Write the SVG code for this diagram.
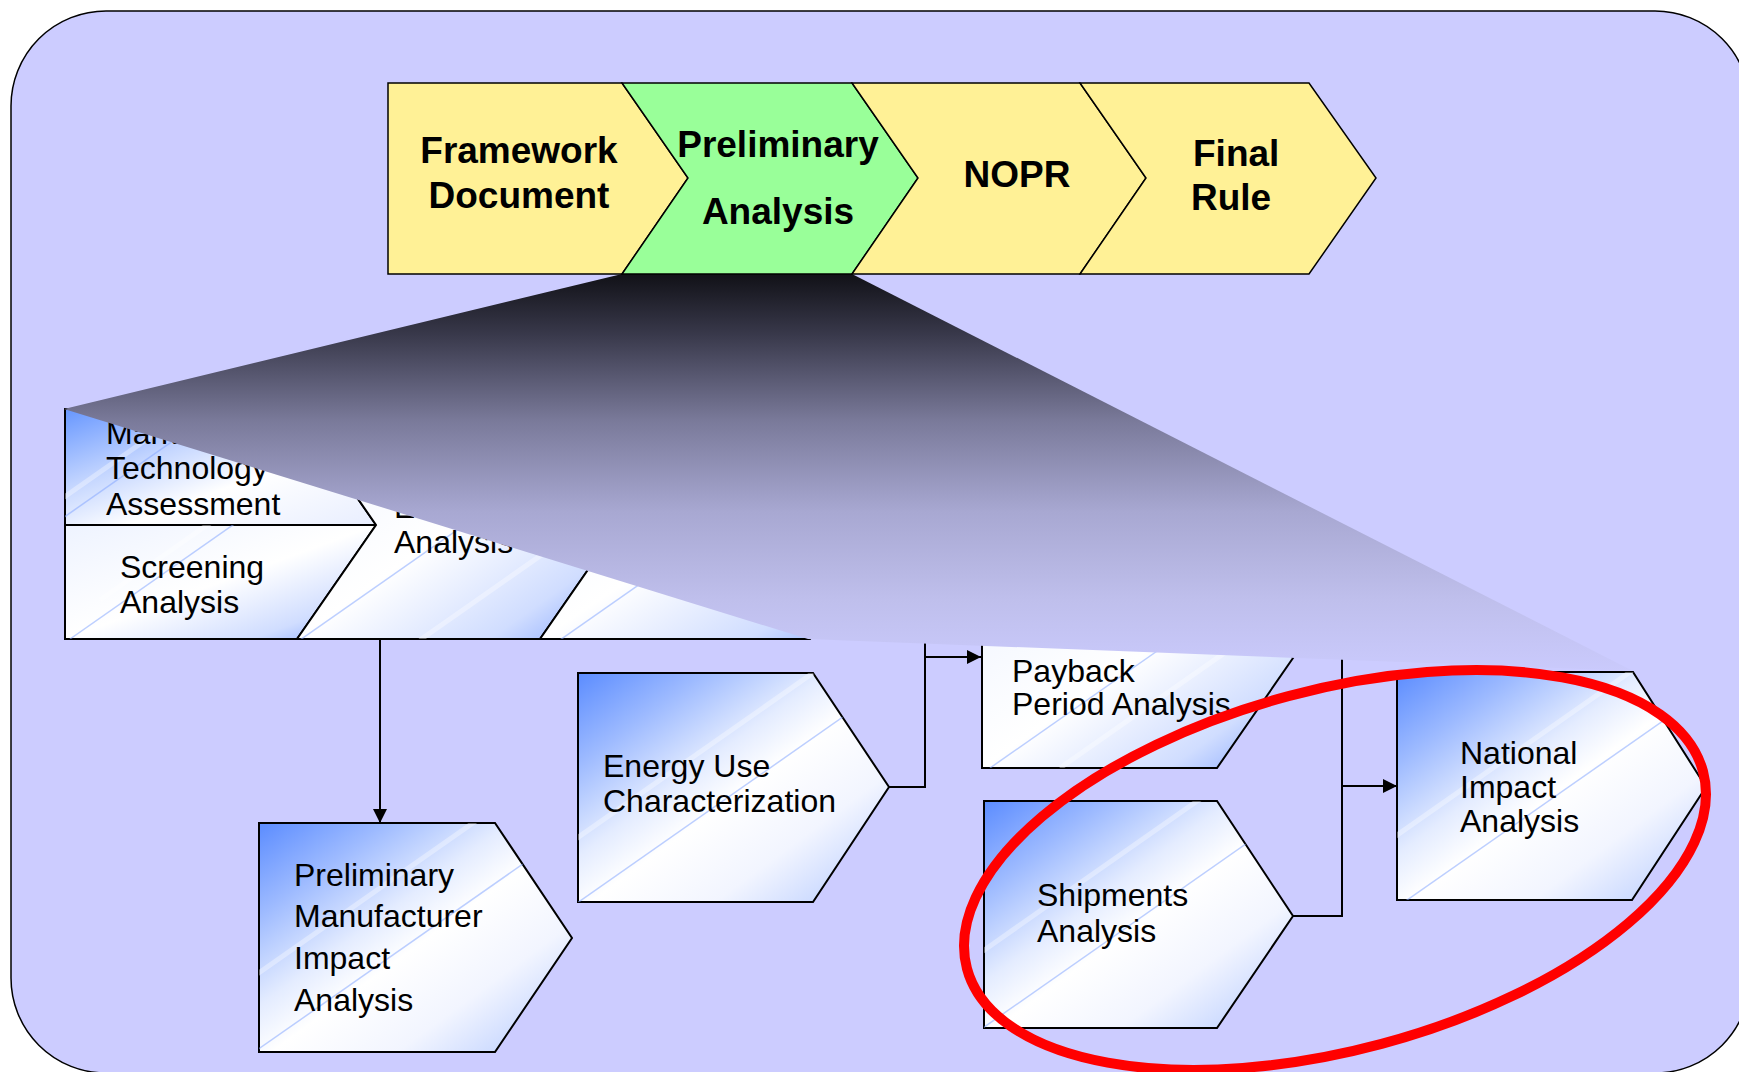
<svg xmlns="http://www.w3.org/2000/svg" width="1739" height="1072" viewBox="0 0 1739 1072">
<defs>
<style>
.bg{fill:#ccccff;stroke:#000;stroke-width:1.5}
.chev{stroke:#000;stroke-width:1.5}
.y{fill:#fff196}
.g{fill:#99ff99}
.tt{font-family:"Liberation Sans",Arial,sans-serif;font-weight:bold;font-size:37px;fill:#000}
.bt{font-family:"Liberation Sans",Arial,sans-serif;font-size:32px;fill:#000}
.box{stroke:#000;stroke-width:2}
.hi{fill:url(#gHi)}
.lo{fill:url(#gLo)}
.st{stroke:#86a8ff;stroke-width:1.5;fill:none;opacity:.55}
.sw{stroke:#fff;stroke-width:5;fill:none;opacity:.35}
.con{fill:none;stroke:#000;stroke-width:2}
</style>
<linearGradient id="gHi" x1="0" y1="0" x2="1" y2="1">
<stop offset="0" stop-color="#5b8cff"/>
<stop offset="0.2" stop-color="#9dbaff"/>
<stop offset="0.4" stop-color="#e4ecff"/>
<stop offset="0.52" stop-color="#ffffff"/>
<stop offset="0.72" stop-color="#f2f5ff"/>
<stop offset="0.88" stop-color="#cddbff"/>
<stop offset="1" stop-color="#8eacff"/>
</linearGradient>
<linearGradient id="gLo" x1="0" y1="0" x2="1" y2="1">
<stop offset="0" stop-color="#eef3ff"/>
<stop offset="0.5" stop-color="#ffffff"/>
<stop offset="0.8" stop-color="#d0ddff"/>
<stop offset="1" stop-color="#7fa2ff"/>
</linearGradient>
<linearGradient id="gMkt" x1="0" y1="0" x2="1" y2="1">
<stop offset="0" stop-color="#6696ff"/>
<stop offset="0.35" stop-color="#c6d7ff"/>
<stop offset="0.6" stop-color="#ffffff"/>
<stop offset="1" stop-color="#e8eeff"/>
</linearGradient>
<linearGradient id="gWedge" gradientUnits="userSpaceOnUse" x1="0" y1="274" x2="0" y2="671">
<stop offset="0" stop-color="#111117"/>
<stop offset="0.15" stop-color="#38384a"/>
<stop offset="0.37" stop-color="#7a7a9a"/>
<stop offset="0.6" stop-color="#a8a8d2"/>
<stop offset="0.82" stop-color="#bfbfec"/>
<stop offset="1" stop-color="#cacafc"/>
</linearGradient>
<marker id="arr" markerUnits="userSpaceOnUse" markerWidth="16" markerHeight="16" refX="14" refY="7" orient="auto">
<path d="M0,0 L14,7 L0,14 z" fill="#000"/>
</marker>
<clipPath id="cMkt"><polygon points="65,409 296,409 376,525 65,525"/></clipPath>
<clipPath id="cScr"><polygon points="65,525 376,525 297,639 65,639"/></clipPath>
<clipPath id="cEng"><polygon points="296,409 540,409 619,525 540,639 297,639 376,525"/></clipPath>
<clipPath id="cMku"><polygon points="540,409 810,409 889,525 810,639 540,639 619,525"/></clipPath>
<clipPath id="cPay"><polygon points="982,548 1217,548 1293,658 1217,768 982,768"/></clipPath>
<clipPath id="cPm"><polygon points="259,823 495,823 572,938 495,1052 259,1052"/></clipPath>
<clipPath id="cEn"><polygon points="578,673 813,673 889,787 813,902 578,902"/></clipPath>
<clipPath id="cSh"><polygon points="984,801 1217,801 1293,916 1217,1028 984,1028"/></clipPath>
<clipPath id="cNa"><polygon points="1397,672 1633,672 1706,787 1632,900 1397,900"/></clipPath>
</defs>

<rect class="bg" x="11" y="11" width="1739" height="1062" rx="95" ry="95"/>

<g id="market-technology">
<polygon class="box" fill="url(#gMkt)" points="65,409 296,409 376,525 65,525"/>
<g clip-path="url(#cMkt)"><line class="sw" x1="60" y1="500" x2="300" y2="332"/><line class="st" x1="60" y1="520" x2="300" y2="352"/></g>
<text class="bt" x="106" y="444">Mark</text>
<text class="bt" x="106" y="479">Technology</text>
<text class="bt" x="106" y="515">Assessment</text>
</g>
<g id="screening">
<polygon class="box lo" points="65,525 376,525 297,639 65,639"/>
<g clip-path="url(#cScr)"><line class="st" x1="70" y1="639" x2="300" y2="478"/><line class="sw" x1="100" y1="600" x2="260" y2="488"/></g>
<text class="bt" x="120" y="578">Screening</text>
<text class="bt" x="120" y="613">Analysis</text>
</g>
<g id="engineering">
<polygon class="box lo" points="296,409 540,409 619,525 540,639 297,639 376,525"/>
<g clip-path="url(#cEng)"><line class="st" x1="300" y1="640" x2="560" y2="458"/><line class="sw" x1="420" y1="640" x2="600" y2="514"/></g>
<text class="bt" x="394" y="518">E</text>
<text class="bt" x="394" y="553">Analysis</text>
</g>
<g id="markups">
<polygon class="box lo" points="540,409 810,409 889,525 810,639 540,639 619,525"/>
<g clip-path="url(#cMku)"><line class="st" x1="560" y1="640" x2="800" y2="472"/></g>
</g>
<g id="payback">
<polygon class="box lo" points="982,548 1217,548 1293,658 1217,768 982,768"/>
<g clip-path="url(#cPay)"><line class="st" x1="990" y1="768" x2="1260" y2="579"/><line class="sw" x1="1060" y1="768" x2="1300" y2="600"/></g>
<text class="bt" x="1012" y="682">Payback</text>
<text class="bt" x="1012" y="715">Period Analysis</text>
</g>

<g id="prelim-manufacturer">
<polygon class="box hi" points="259,823 495,823 572,938 495,1052 259,1052"/>
<g clip-path="url(#cPm)"><line class="st" x1="240" y1="1062" x2="620" y2="796"/><line class="sw" x1="220" y1="1000" x2="560" y2="762"/></g>
<text class="bt" x="294" y="886">Preliminary</text>
<text class="bt" x="294" y="927">Manufacturer</text>
<text class="bt" x="294" y="969">Impact</text>
<text class="bt" x="294" y="1011">Analysis</text>
</g>
<g id="energy-use">
<polygon class="box hi" points="578,673 813,673 889,787 813,902 578,902"/>
<g clip-path="url(#cEn)"><line class="st" x1="570" y1="908" x2="900" y2="677"/><line class="sw" x1="560" y1="850" x2="860" y2="640"/></g>
<text class="bt" x="603" y="777">Energy Use</text>
<text class="bt" x="603" y="812">Characterization</text>
</g>
<g id="shipments">
<polygon class="box hi" points="984,801 1217,801 1293,916 1217,1028 984,1028"/>
<g clip-path="url(#cSh)"><line class="st" x1="980" y1="1030" x2="1300" y2="806"/><line class="sw" x1="970" y1="960" x2="1250" y2="764"/></g>
<text class="bt" x="1037" y="906">Shipments</text>
<text class="bt" x="1037" y="942">Analysis</text>
</g>
<g id="national-impact">
<polygon class="box hi" points="1397,672 1633,672 1706,787 1632,900 1397,900"/>
<g clip-path="url(#cNa)"><line class="st" x1="1400" y1="905" x2="1700" y2="695"/><line class="sw" x1="1390" y1="840" x2="1650" y2="658"/></g>
<text class="bt" x="1460" y="764">National</text>
<text class="bt" x="1460" y="798">Impact</text>
<text class="bt" x="1460" y="832">Analysis</text>
</g>

<g id="connectors">
<path class="con" d="M380,639 V823" marker-end="url(#arr)"/>
<path class="con" d="M889,787 H925 V600"/>
<path class="con" d="M925,657 H981" marker-end="url(#arr)"/>
<path class="con" d="M1293,916 H1342 V620"/>
<path class="con" d="M1342,786 H1397" marker-end="url(#arr)"/>
</g>

<polygon id="zoom-wedge" fill="url(#gWedge)" points="622,274 852,274 1633,671 808,639 64,409"/>

<g id="framework-document">
<polygon class="chev y" points="388,83 622,83 688,178 622,274 388,274"/>
<text class="tt" x="519" y="163" text-anchor="middle">Framework</text>
<text class="tt" x="519" y="208" text-anchor="middle">Document</text>
</g>
<g id="preliminary-analysis">
<polygon class="chev g" points="622,83 852,83 918,178 852,274 622,274 688,178"/>
<text class="tt" x="778" y="157" text-anchor="middle">Preliminary</text>
<text class="tt" x="778" y="224" text-anchor="middle">Analysis</text>
</g>
<g id="nopr">
<polygon class="chev y" points="852,83 1080,83 1146,178 1080,274 852,274 918,178"/>
<text class="tt" x="1017" y="187" text-anchor="middle">NOPR</text>
</g>
<g id="final-rule">
<polygon class="chev y" points="1080,83 1309,83 1376,178 1309,274 1080,274 1146,178"/>
<text class="tt" x="1193" y="166">Final</text>
<text class="tt" x="1191" y="210">Rule</text>
</g>

<ellipse id="highlight" cx="1335" cy="870" rx="381" ry="180" transform="rotate(-15 1335 870)" fill="none" stroke="#ff0000" stroke-width="10"/>
</svg>
